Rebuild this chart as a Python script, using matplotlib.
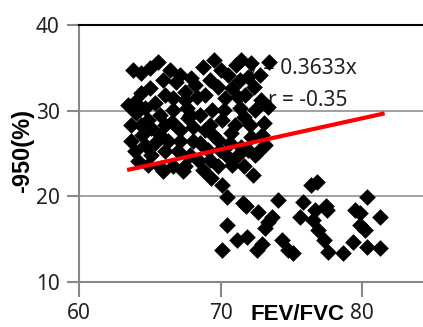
import matplotlib
matplotlib.use('Agg')
import matplotlib.pyplot as plt

### Data (FEV/FVC vs -950(%))
# upper group
fev_a = [63.82, 64.38, 65.02, 65.58, 66.43, 66.86, 65.02, 64.38, 63.96, 63.46,
         64.03, 67.49, 67.92, 66.64, 68.76, 64.88, 65.72, 66.64, 67.49, 68.34,
         67.14, 68.06, 63.67, 64.38, 65.09, 66.08, 67.70, 63.67, 64.66, 65.37,
         66.29, 67.14, 68.06, 63.96, 65.09, 66.08, 67.00, 67.84, 64.17, 64.88,
         65.80, 66.64, 67.49, 65.94, 67.35, 68.76, 68.55, 69.54, 71.45, 72.16,
         73.43, 70.04, 71.94, 72.37, 69.82, 71.24, 73.36, 72.86, 70.25, 71.66,
         73.07, 70.74, 72.16, 69.82, 72.65, 71.45, 70.53, 69.82, 71.66, 72.30,
         69.26, 68.90, 69.40, 68.55, 69.26, 70.11, 70.81, 70.53, 71.38, 72.44,
         72.93, 71.02, 69.96, 69.12, 69.26, 70.81, 68.41, 67.84, 70.67, 72.08,
         71.73, 72.79, 71.10, 70.32, 69.47, 71.94, 73.14, 68.90, 68.20, 67.14,
         65.94, 66.08, 65.37, 64.66, 65.72, 66.57, 64.45, 67.63, 71.38, 72.44,
         71.24]
pct_a = [34.74, 34.39, 34.97, 35.67, 34.74, 33.34, 32.64, 32.05, 31.00, 30.65,
         29.72, 32.17, 33.80, 31.47, 35.09, 28.90, 29.49, 30.07, 31.24, 31.59,
         27.74, 28.09, 28.32, 28.32, 27.97, 28.32, 29.14, 26.45, 25.99, 26.22,
         26.45, 26.45, 26.45, 25.29, 24.82, 25.29, 25.29, 24.82, 24.12, 23.65,
         23.30, 23.54, 23.54, 22.95, 22.95, 23.07, 26.22, 35.90, 35.90, 35.55,
         35.67, 34.74, 33.92, 32.75, 32.75, 31.59, 30.42, 31.24, 30.07, 29.25,
         28.55, 27.39, 26.92, 26.57, 25.17, 25.75, 24.59, 23.54, 23.54, 22.49,
         33.57, 31.82, 30.07, 29.49, 28.32, 28.90, 32.64, 34.15, 30.30, 30.07,
         27.15, 28.32, 25.40, 25.40, 24.24, 23.65, 24.24, 29.49, 26.22, 28.32,
         31.82, 34.15, 35.32, 31.47, 27.15, 25.40, 25.99, 27.74, 32.99, 34.15,
         33.57, 31.82, 30.89, 30.30, 27.15, 28.67, 27.15, 30.30, 33.57, 24.82,
         24.82]
# lower group
fev_b = [69.33, 70.11, 70.46, 71.59, 71.80, 72.65, 74.06, 73.64, 73.14, 73.36,
         70.46, 71.17, 71.87, 70.11, 72.58, 72.93, 74.35, 74.77, 75.12, 75.83,
         75.62, 76.54, 76.82, 76.40, 76.68, 77.53, 76.89, 77.31, 77.60, 78.66,
         79.36, 80.35, 81.27, 80.35, 79.51, 79.86, 81.27, 80.21, 77.46, 79.86]
pct_b = [22.14, 21.32, 19.92, 19.22, 18.87, 18.17, 19.57, 17.58, 16.30, 17.00,
         16.65, 14.90, 15.25, 13.73, 13.73, 14.43, 14.90, 13.73, 13.38, 19.33,
         17.58, 17.23, 21.67, 21.32, 18.40, 18.40, 16.07, 14.90, 13.50, 13.38,
         14.67, 14.08, 13.97, 19.92, 18.40, 18.05, 17.58, 16.07, 18.87, 16.65]

# trend line y = 0.3633x
slope = 0.3633
fit_x = [63.4, 81.6]
fit_y = [slope * v + 0.04 for v in fit_x]

x_ticks = [60, 70, 80]
y_ticks = [10, 20, 30, 40]

plt.rcParams['font.family'] = ['Noto Sans', 'DejaVu Sans']

fig = plt.figure(figsize=(4.23, 3.27), dpi=100)
ax = fig.add_axes([79 / 423, 1 - 282 / 327, 1 - 79 / 423, (282 - 25) / 327])

ax.scatter(fev_a + fev_b, pct_a + pct_b, marker='D', s=72, color='black',
           linewidths=0, zorder=3)
ax.plot(fit_x, fit_y, color='#ff0000', linewidth=3, zorder=4, solid_capstyle='butt')

# equation text sits under the markers
ax.text(79.6, 34.97, 'y = 0.3633x', ha='right', va='center', fontsize=15,
        color='#222222', zorder=2)
ax.text(79.0, 31.24, 'r = -0.35', ha='right', va='center', fontsize=15,
        color='#222222', zorder=2)

ax.set_xlim(60, 60 + 344 / 14.15)
ax.set_ylim(10, 40)
ax.set_xticks(x_ticks)
ax.set_yticks(y_ticks)
ax.grid(axis='y', color='#999999', linewidth=1.3, zorder=1)
ax.set_axisbelow(True)

for side in ['left', 'bottom']:
    ax.spines[side].set_color('#888888')
    ax.spines[side].set_linewidth(1.5)
ax.spines['top'].set_color('black')
ax.spines['top'].set_linewidth(1.5)
ax.spines['right'].set_visible(False)

ax.tick_params(axis='both', direction='out', color='#888888', width=1.5,
               labelsize=15, labelcolor='#222222')
ax.tick_params(axis='y', length=9, pad=5)
ax.tick_params(axis='x', length=11, pad=4)

fig.text(23 / 423, 1 - 151 / 327, '-950(%)', rotation=90, ha='center',
         va='center', fontsize=17, fontweight='bold', family='Liberation Sans')
fig.text(297 / 423, 1 - 314 / 327, 'FEV/FVC', ha='center', va='center',
         fontsize=16, fontweight='bold', family='Liberation Sans')

fig.savefig('out.png', dpi=100)
